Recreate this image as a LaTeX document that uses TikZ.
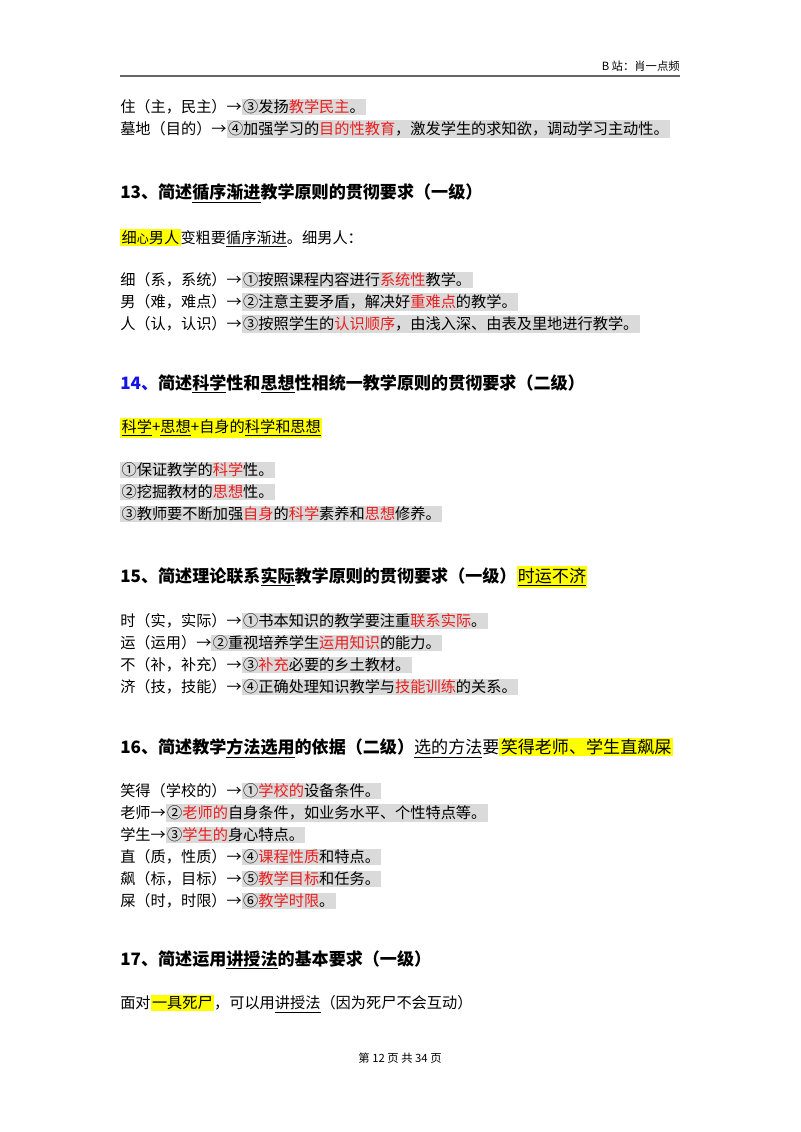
\documentclass[tikz,border=0pt]{standalone}
\usepackage{fontspec}
\setmainfont{Noto Sans CJK SC}
\newfontfamily\cjkb{Noto Sans CJK SC Bold}
\definecolor{hlgray}{RGB}{218,218,218}
\definecolor{hlyel}{RGB}{255,255,0}
\definecolor{tred}{RGB}{235,30,30}
\definecolor{tblue}{RGB}{20,20,230}
\newcommand\hg[1]{{\setlength\fboxsep{1pt}\colorbox{hlgray}{#1}}}
\newcommand\hy[1]{{\setlength\fboxsep{1pt}\colorbox{hlyel}{#1}}}
\newcommand\rd[1]{\textcolor{tred}{#1}}
\newcommand\ul[1]{\underline{#1}}
\begin{document}
\begin{tikzpicture}[x=0.75pt,y=-0.75pt,
  body/.style={anchor=west,inner sep=0pt,font=\fontsize{11.4}{13}\selectfont},
  head/.style={anchor=west,inner sep=0pt,font=\fontsize{12.8}{14}\selectfont\bfseries},
  small/.style={inner sep=0pt,font=\fontsize{8.5}{10}\selectfont}]
\fill[white] (0,0) rectangle (800,1132);
\node[small,anchor=east] (hdr) at (680,66) {B 站：肖一点频};
\draw[gray!80!black,line width=0.9pt] (120,76) -- (680,76);
\node[body] (l1) at (120,107) {住（主，民主）→\hg{③发扬\rd{教学民主}。}};
\node[body] (l2) at (120,129) {墓地（目的）→\hg{④加强学习的\rd{目的性教育}，激发学生的求知欲，调动学习主动性。}};
\node[head] (h13) at (120,193) {13、简述\ul{循序渐进}教学原则的贯彻要求（一级）};
\node[body] (m13) at (120,238) {\hy{细{\small 心}男人}变粗要\ul{循序渐进}。细男人：};
\node[body] (a1) at (120,280) {细（系，系统）→\hg{①按照课程内容进行\rd{系统性}教学。}};
\node[body] (a2) at (120,302) {男（难，难点）→\hg{②注意主要矛盾，解决好\rd{重难点}的教学。}};
\node[body] (a3) at (120,324) {人（认，认识）→\hg{③按照学生的\rd{认识顺序}，由浅入深、由表及里地进行教学。}};
\node[head] (h14) at (120,384) {\textcolor{tblue}{14、}简述\ul{科学}性和\ul{思想}性相统一教学原则的贯彻要求（二级）};
\node[body] (m14) at (120,428) {\hy{\ul{科学}+\ul{思想}+自身的\ul{科学和思想}}};
\node[body] (b1) at (120,470) {\hg{①保证教学的\rd{科学}性。}};
\node[body] (b2) at (120,492) {\hg{②挖掘教材的\rd{思想}性。}};
\node[body] (b3) at (120,514) {\hg{③教师要不断加强\rd{自身}的\rd{科学}素养和\rd{思想}修养。}};
\node[head] (h15) at (120,577) {15、简述理论联系\ul{实际}教学原则的贯彻要求（一级）{\mdseries\hy{\ul{时运不济}}}};
\node[body] (c1) at (120,621) {时（实，实际）→\hg{①书本知识的教学要注重\rd{联系实际}。}};
\node[body] (c2) at (120,643) {运（运用）→\hg{②重视培养学生\rd{运用知识}的能力。}};
\node[body] (c3) at (120,665) {不（补，补充）→\hg{③\rd{补充}必要的乡土教材。}};
\node[body] (c4) at (120,687) {济（技，技能）→\hg{④正确处理知识教学与\rd{技能训练}的关系。}};
\node[head] (h16) at (120,748) {16、简述教学\ul{方法选用}的依据（二级）{\mdseries\ul{选的方法}要\hy{笑得老师、学生直飙屎}}};
\node[body] (d1) at (120,791) {笑得（学校的）→\hg{①\rd{学校的}设备条件。}};
\node[body] (d2) at (120,813) {老师→\hg{②\rd{老师的}自身条件，如业务水平、个性特点等。}};
\node[body] (d3) at (120,835) {学生→\hg{③\rd{学生的}身心特点。}};
\node[body] (d4) at (120,857) {直（质，性质）→\hg{④\rd{课程性质}和特点。}};
\node[body] (d5) at (120,879) {飙（标，目标）→\hg{⑤\rd{教学目标}和任务。}};
\node[body] (d6) at (120,901) {屎（时，时限）→\hg{⑥\rd{教学时限}。}};
\node[head] (h17) at (120,960) {17、简述运用\ul{讲授法}的基本要求（一级）};
\node[body] (m17) at (120,1004) {面对\hy{一具死尸}，可以用\ul{讲授法}（因为死尸不会互动）};
\node[small] (ftr) at (400,1058) {第 12 页 共 34 页};
\end{tikzpicture}
\end{document}
